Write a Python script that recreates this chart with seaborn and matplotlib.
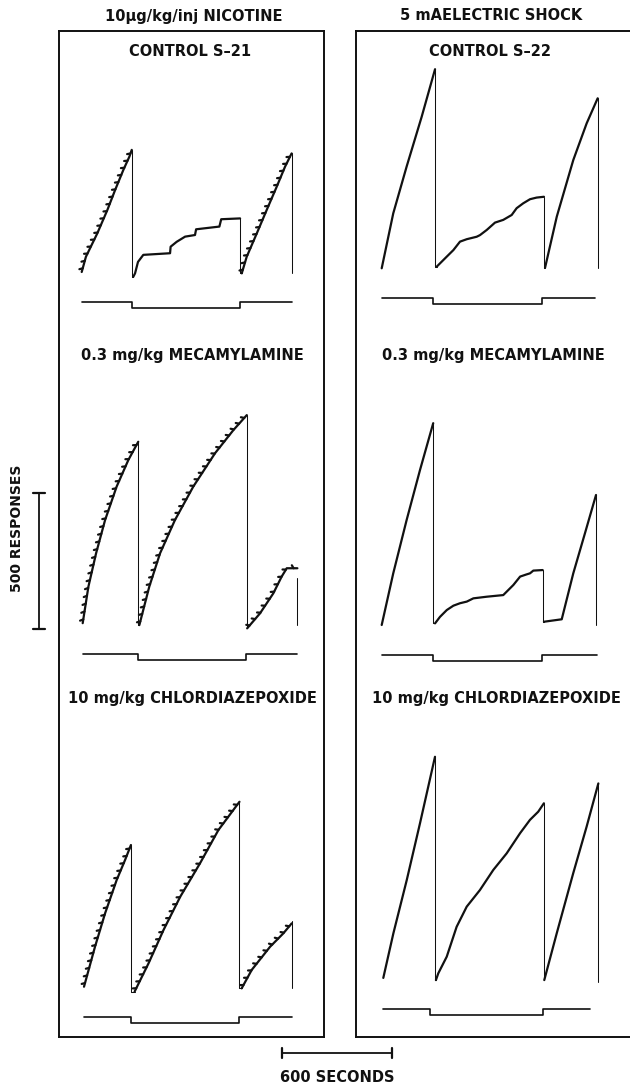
import numpy as np
import pandas as pd
import matplotlib
matplotlib.use("Agg")
import matplotlib.pyplot as plt
import matplotlib.patheffects as pe
import seaborn as sns

nan = np.nan

# Cumulative records: time (s) against cumulative responses.
# nan marks a pen reset between the three components of a session.

# Nicotine self-injection, S-21
NIC_CTRL_T = [0, 23, 85, 140, 182, 227, 260, 273, nan,
              281, 291, 307, 336, 482, 485, 518, 564, 618, 624, 751, 761, 864, nan,
              873, 900, 955, 1009, 1064, 1109, 1145]
NIC_CTRL_R = [0, 56, 142, 228, 301, 375, 424, 449, nan,
              -18, -5, 37, 63, 69, 93, 111, 130, 136, 157, 167, 194, 197, nan,
              -5, 56, 142, 228, 314, 387, 436]
NIC_CTRL_TICKS = [True, False, True]
NIC_CTRL_END = (436, -5)
NIC_CTRL_EVENT = [272, 861, 1145]

NIC_MEC_T = [0, 31, 73, 122, 185, 249, 303, nan,
             309, 363, 422, 503, 603, 722, 822, 895, nan,
             897, 967, 1040, 1085, 1113, 1171]
NIC_MEC_R = [3, 137, 260, 382, 505, 603, 670, nan,
             -4, 137, 260, 382, 505, 628, 713, 768, nan,
             -16, 39, 113, 174, 205, 205]
NIC_MEC_TICKS = [True, True, True]
NIC_MEC_END = (169, -4)
NIC_MEC_EVENT = [302, 891, 1171]

NIC_CDP_T = [0, 60, 115, 178, 224, 256, nan,
             276, 352, 434, 525, 633, 733, 848, nan,
             860, 915, 1015, 1087, 1133]
NIC_CDP_R = [1, 148, 271, 393, 467, 522, nan,
             -17, 87, 210, 332, 455, 577, 681, nan,
             -5, 63, 148, 197, 234]
NIC_CDP_TICKS = [True, True, True]
NIC_CDP_END = (244, -4)
NIC_CDP_EVENT = [256, 845, 1133]

# Electric shock (5 mA), S-22
SHK_CTRL_T = [0, 63, 136, 218, 291, nan,
              300, 355, 391, 427, 464, 518, 536, 573, 618, 663, 709, 736, 772, 809, 845, 885, nan,
              891, 955, 1045, 1118, 1178]
SHK_CTRL_R = [0, 202, 374, 557, 732, nan,
              6, 43, 67, 98, 107, 116, 122, 141, 168, 178, 196, 221, 239, 254, 260, 263, nan,
              2, 190, 398, 533, 625]
SHK_CTRL_TICKS = [False, False, False]
SHK_CTRL_END = (625, 0)
SHK_CTRL_EVENT = [280, 874, 1163]

SHK_MEC_T = [0, 63, 136, 209, 281, nan,
             291, 318, 355, 391, 427, 464, 500, 573, 663, 718, 755, 790, 809, 827, 878, nan,
             885, 982, 1045, 1109, 1169]
SHK_MEC_R = [0, 190, 386, 570, 742, nan,
             6, 30, 55, 71, 80, 86, 98, 104, 110, 147, 178, 186, 190, 200, 202, nan,
             12, 21, 190, 338, 478]
SHK_MEC_TICKS = [False, False, False]
SHK_MEC_END = (478, 0)
SHK_MEC_EVENT = [280, 874, 1173]

SHK_CDP_T = [0, 55, 128, 200, 282, nan,
             287, 300, 346, 400, 455, 527, 600, 673, 746, 800, 845, 876, nan,
             878, 946, 1036, 1109, 1173]
SHK_CDP_R = [4, 168, 364, 572, 817, nan,
             -4, 21, 82, 192, 266, 327, 401, 462, 536, 585, 615, 646, nan,
             -4, 168, 389, 560, 719]
SHK_CDP_TICKS = [False, False, False]
SHK_CDP_END = (719, -12)
SHK_CDP_EVENT = [255, 873, 1127]

COLUMN_HEADS = ["10\u03bcg/kg/inj NICOTINE", "5 mAELECTRIC SHOCK"]
ROW_LABELS_LEFT = ["CONTROL S\u201321", "0.3 mg/kg MECAMYLAMINE", "10 mg/kg CHLORDIAZEPOXIDE"]
ROW_LABELS_RIGHT = ["CONTROL S\u201322", "0.3 mg/kg MECAMYLAMINE", "10 mg/kg CHLORDIAZEPOXIDE"]
SCALE_SECONDS = 600
SCALE_RESPONSES = 500

# ---------------------------------------------------------------- styling
sns.set_theme(style="white")
plt.rcParams["font.family"] = ["DejaVu Sans"]
plt.rcParams["font.weight"] = "bold"
INK = "#111111"

W, H = 630, 1084
KT = SCALE_SECONDS / 110.0    # seconds per pixel on the recorder paper
KR = SCALE_RESPONSES / 136.0  # responses per pixel
EV_HI, EV_LO = -30 * KR, -35.5 * KR  # event-pen levels below the record

fig = plt.figure(figsize=(W / 100, H / 100), dpi=100)
fig.patch.set_facecolor("white")


def px_axes(left, top, width, height):
    return fig.add_axes([left / W, 1 - (top + height) / H, width / W, height / H])


def ftext(x, y, s, **kw):
    fig.text(x / W, 1 - y / H, s, ha="center", va="center", color=INK,
             fontweight="bold", **kw)


# panel frames
for left, right in [(59, 324), (356, 640)]:
    box = px_axes(left, 31, right - left, 1037 - 31)
    box.set_xticks([]); box.set_yticks([])
    box.set_facecolor("none")
    for sp in box.spines.values():
        sp.set_linewidth(1.4); sp.set_color(INK)


def record_axes(x0, y0):
    ax = px_axes(x0 - 10, y0 - 240, 250, 290)
    ax.set_xlim(-10 * KT, 240 * KT)
    ax.set_ylim(-50 * KR, 240 * KR)
    ax.axis("off")
    return ax


def draw_record(ax, t, r, ticks, end, events, lw):
    t = np.asarray(t, float); r = np.asarray(r, float)
    cuts = np.where(np.isnan(t))[0]
    segs = [idx[~np.isnan(t[idx])] for idx in np.split(np.arange(len(t)), cuts)]
    for k, idx in enumerate(segs):
        df = pd.DataFrame({"t": t[idx], "r": r[idx]})
        kw = {}
        if ticks[k]:
            # reinforcement hooks of the recorder pen
            kw["path_effects"] = [pe.withTickedStroke(spacing=5.5, angle=120,
                                                      length=0.45, linewidth=1.6)]
        sns.lineplot(data=df, x="t", y="r", ax=ax, color=INK, lw=lw,
                     sort=False, estimator=None, **kw)
        if k + 1 < len(segs):
            n0 = segs[k + 1][0]
            ax.plot([t[idx[-1]], t[idx[-1]], t[n0]], [r[idx[-1]], r[n0], r[n0]],
                    color=INK, lw=0.75)
    # pen return at the end of the session
    ax.plot([t[segs[-1][-1]]] * 2, list(end), color=INK, lw=0.75)
    # event pen: down during the drug/shock component
    td, tu, te = events
    ax.plot([0, td, td, tu, tu, te], [EV_HI, EV_HI, EV_LO, EV_LO, EV_HI, EV_HI],
            color=INK, lw=1.2)


left_records = [
    ((81.7, 272), NIC_CTRL_T, NIC_CTRL_R, NIC_CTRL_TICKS, NIC_CTRL_END, NIC_CTRL_EVENT),
    ((82.7, 624), NIC_MEC_T, NIC_MEC_R, NIC_MEC_TICKS, NIC_MEC_END, NIC_MEC_EVENT),
    ((84.0, 987), NIC_CDP_T, NIC_CDP_R, NIC_CDP_TICKS, NIC_CDP_END, NIC_CDP_EVENT),
]
right_records = [
    ((381.7, 268.3), SHK_CTRL_T, SHK_CTRL_R, SHK_CTRL_TICKS, SHK_CTRL_END, SHK_CTRL_EVENT),
    ((381.7, 625), SHK_MEC_T, SHK_MEC_R, SHK_MEC_TICKS, SHK_MEC_END, SHK_MEC_EVENT),
    ((383.3, 979), SHK_CDP_T, SHK_CDP_R, SHK_CDP_TICKS, SHK_CDP_END, SHK_CDP_EVENT),
]

axes_left = []
for (x0, y0), t, r, tk, end, ev in left_records:
    ax = record_axes(x0, y0)
    draw_record(ax, t, r, tk, end, ev, lw=1.6)
    axes_left.append(ax)
for (x0, y0), t, r, tk, end, ev in right_records:
    ax = record_axes(x0, y0)
    draw_record(ax, t, r, tk, end, ev, lw=1.6)

# calibration bars
ax2 = axes_left[1]
xb = (39.3 - 82.7) * KT
yb = -18
ax2.plot([xb, xb], [yb, yb + SCALE_RESPONSES], color=INK, lw=1.3, clip_on=False)
for yy in (yb, yb + SCALE_RESPONSES):
    ax2.plot([xb - 6 * KT, xb + 6 * KT], [yy, yy], color=INK, lw=1.6, clip_on=False)

ax3 = axes_left[2]
xs = (281.7 - 84) * KT
ys = (987 - 1053) * KR
ax3.plot([xs, xs + SCALE_SECONDS], [ys, ys], color=INK, lw=1.3, clip_on=False)
for xx in (xs, xs + SCALE_SECONDS):
    ax3.plot([xx, xx], [ys - 5 * KR, ys + 5 * KR], color=INK, lw=1.6, clip_on=False)

# labels
FS = 10.5
ftext(194, 16, COLUMN_HEADS[0], fontsize=FS)
ftext(491, 16, COLUMN_HEADS[1], fontsize=FS)
for (cx, ys_), lab in zip([(190, 51), (192, 355), (192, 699)], ROW_LABELS_LEFT):
    ftext(cx, ys_, lab, fontsize=FS)
for (cx, ys_), lab in zip([(490, 51), (493, 355), (496, 699)], ROW_LABELS_RIGHT):
    ftext(cx, ys_, lab, fontsize=FS)
ftext(17, 528, "500 RESPONSES", fontsize=10, rotation=90)
ftext(337, 1077, "600 SECONDS", fontsize=FS)

fig.savefig("out.png", dpi=100, facecolor="white")
